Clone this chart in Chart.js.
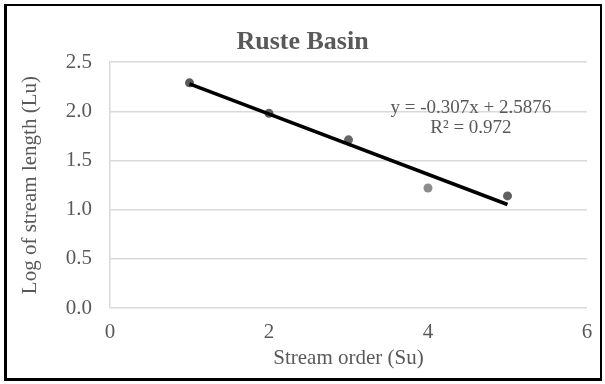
<!DOCTYPE html>
<html>
<head>
<meta charset="utf-8">
<script src="https://cdn.jsdelivr.net/npm/chart.js@4.4.0/dist/chart.umd.min.js"></script>
<style>
  html, body { margin: 0; padding: 0; background: #fff; }
  #wrap { position: relative; width: 605px; height: 384px; }
  #frame {
    position: absolute; left: 4px; top: 4px; width: 598px; height: 377px;
    box-sizing: border-box; border-style: solid; border-color: #000;
    border-width: 2px 2px 3px 3px; pointer-events: none;
  }
  canvas { position: absolute; left: 0; top: 0; }
</style>
</head>
<body>
<div id="wrap">
  <canvas id="basinChart" width="605" height="384"></canvas>
  <div id="frame"></div>
</div>
<script>
// stream order vs log of stream length, Ruste basin
const streamOrder = [1, 2, 3, 4, 5];
const logLength = [2.29, 1.98, 1.71, 1.22, 1.14];
const pointColors = ['#5a5a5a', '#5f5f5f', '#666666', '#8c8c8c', '#606060'];
const slope = -0.307;
const intercept = 2.5876;
const rSquared = 0.972;
const yTicks = [0, 0.5, 1, 1.5, 2, 2.5];
const xTicks = [0, 2, 4, 6];

const grey = '#595959';
const serif = '"Liberation Serif", "Times New Roman", serif';

const points = streamOrder.map((x, i) => ({ x: x, y: logLength[i] }));
const xFirst = streamOrder[0], xLast = streamOrder[streamOrder.length - 1];
const trend = [
  { x: xFirst, y: slope * xFirst + intercept },
  { x: xLast, y: slope * xLast + intercept }
];

const equationLabel = {
  id: 'equationLabel',
  afterDatasetsDraw(chart) {
    const { ctx, scales } = chart;
    const cx = scales.x.getPixelForValue(4.54);
    const cy = scales.y.getPixelForValue(2.03);
    ctx.save();
    ctx.font = '19px ' + serif;
    ctx.fillStyle = grey;
    ctx.textAlign = 'center';
    ctx.textBaseline = 'middle';
    ctx.fillText('y = ' + slope + 'x + ' + intercept, cx, cy);
    ctx.fillText('R\u00B2 = ' + rSquared, cx, cy + 20);
    ctx.restore();
  }
};

new Chart(document.getElementById('basinChart'), {
  type: 'scatter',
  data: {
    datasets: [{
      type: 'line',
      label: 'Trend',
      data: trend,
      borderColor: '#000',
      borderWidth: 3.5,
      pointRadius: 0,
      fill: false
    }, {
      label: 'Log of stream length',
      data: points,
      pointRadius: 4.5,
      pointBackgroundColor: pointColors,
      pointBorderWidth: 0
    }]
  },
  options: {
    responsive: false,
    animation: false,
    devicePixelRatio: 1,
    layout: { padding: { left: 18, right: 18, top: 0, bottom: 13 } },
    plugins: {
      legend: { display: false },
      tooltip: { enabled: false },
      title: {
        display: true,
        text: 'Ruste Basin',
        color: grey,
        font: { family: serif, size: 26, weight: 'bold' },
        padding: { top: 27, bottom: 4 }
      }
    },
    scales: {
      x: {
        type: 'linear',
        min: 0, max: 6,
        afterBuildTicks: (s) => { s.ticks = xTicks.map(v => ({ value: v })); },
        afterFit: (s) => { s.height = 63; },
        grid: { display: false, drawTicks: false },
        border: { display: false },
        ticks: { color: grey, padding: 12, font: { family: serif, size: 21 } },
        title: {
          display: true, text: 'Stream order (Su)', color: grey,
          font: { family: serif, size: 21 }, padding: 0
        }
      },
      y: {
        min: 0, max: 2.5,
        afterBuildTicks: (s) => { s.ticks = yTicks.map(v => ({ value: v })); },
        afterFit: (s) => { s.width = 92; },
        grid: { color: '#d9d9d9', lineWidth: 1.5, drawTicks: false },
        border: { display: true, color: '#d9d9d9', width: 1.5 },
        ticks: {
          color: grey, padding: 18, font: { family: serif, size: 21 },
          callback: (v) => v.toFixed(1)
        },
        title: {
          display: true, text: 'Log of stream length (Lu)', color: grey,
          font: { family: serif, size: 21 }, padding: 0
        }
      }
    }
  },
  plugins: [equationLabel]
});
</script>
</body>
</html>
